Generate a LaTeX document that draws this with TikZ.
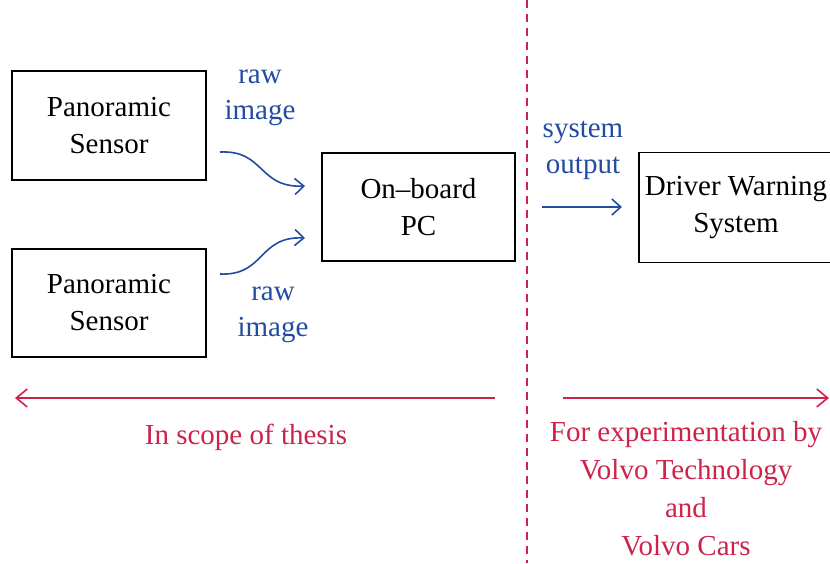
\documentclass[tikz,border=0pt]{standalone}
\usepackage{fontspec}
\setmainfont{Liberation Serif}
\usetikzlibrary{arrows.meta}
\definecolor{dblue}{RGB}{35,75,160}
\definecolor{dred}{RGB}{205,35,75}
\tikzset{
  box/.style={draw, line width=1.2pt, minimum width=194pt, minimum height=109pt, inner sep=0pt, align=center, font=\fontsize{29}{37}\selectfont},
  blbl/.style={text=dblue, align=center, inner sep=0pt, font=\fontsize{29}{36}\selectfont},
  rlbl/.style={text=dred, align=center, inner sep=0pt, font=\fontsize{29}{38}\selectfont},
  barrow/.style={draw=dblue, line width=1.6pt, -{Straight Barb[length=9pt,width=16pt]}},
  rarrow/.style={draw=dred, line width=1.6pt, -{Straight Barb[length=11pt,width=18pt]}},
  divider/.style={draw=dred, line width=1.3pt, dash pattern=on 8pt off 6pt},
}
\begin{document}
\begin{tikzpicture}[x=1pt,y=-1pt]
\useasboundingbox (0,0) rectangle (830,563);
\node[box] (s1) at (109,125.5) {Panoramic\\Sensor};
\node[box, minimum height=108pt] (s2) at (109,303) {Panoramic\\Sensor};
\node[box, minimum width=193pt, minimum height=108pt] (pc) at (418.5,207) {On–board\\PC};
\node[box, minimum height=110pt] (dws) at (736,207.5) {Driver Warning\\System};
\node[blbl] (r1) at (260,98) {raw\\image};
\node[blbl] (r2) at (273,315) {raw\\image};
\node[blbl] (so) at (583,150) {system\\output};
\coordinate (a1s) at (220,152);
\coordinate (a1e) at (305,186);
\coordinate (a2s) at (220,274);
\coordinate (a2e) at (305,238);
\coordinate (a3s) at (542,207);
\coordinate (a3e) at (622,207);
\draw[barrow] (a1s) .. controls (265,150) and (258,188) .. (a1e);
\draw[barrow] (a2s) .. controls (265,276) and (258,236) .. (a2e);
\draw[barrow] (a3s) -- (a3e);
\coordinate (dt) at (527,0);
\coordinate (db) at (527,563);
\draw[divider] (dt) -- (db);
\coordinate (l1) at (495,398);
\coordinate (l2) at (15,398);
\coordinate (q1) at (563,398);
\coordinate (q2) at (829,398);
\draw[rarrow] (l1) -- (l2);
\draw[rarrow] (q1) -- (q2);
\node[rlbl] (scope) at (246,437) {In scope of thesis};
\node[rlbl] (exp) at (686,489) {For experimentation by\\Volvo Technology\\and\\Volvo Cars};
\end{tikzpicture}
\end{document}
